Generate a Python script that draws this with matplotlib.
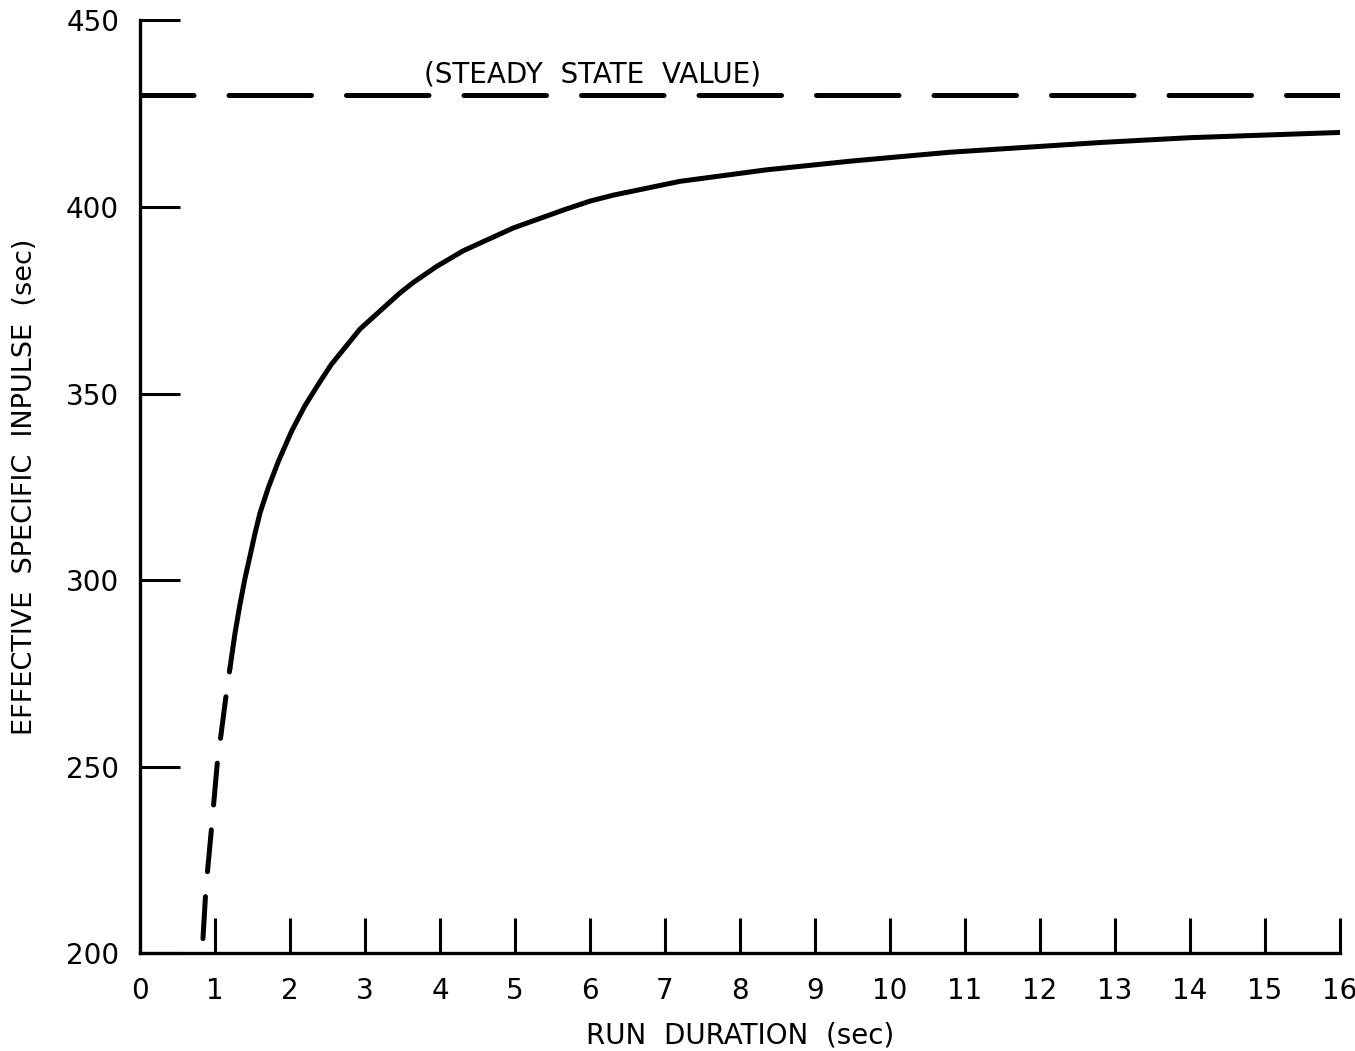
import matplotlib
matplotlib.use('Agg')
from matplotlib import pyplot as plt

# run duration (sec) vs effective specific impulse (sec)
# short-run portion below ~1.2 sec is extrapolated (drawn dashed)
run_time_extrap = [0.84, 0.88, 0.95, 1.03, 1.16, 1.20]
isp_extrap = [204.0, 217.6, 232.7, 250.8, 271.0, 276.5]

run_time = [1.20, 1.267, 1.333, 1.40, 1.467, 1.533, 1.60, 1.711, 1.844, 2.023,
            2.20, 2.40, 2.55, 2.933, 3.467, 3.644, 3.956, 4.311, 4.977,
            5.644, 6.0, 6.311, 7.2, 8.36, 9.47, 10.13, 10.8, 12.8, 14.0, 16.0]
isp = [276.5, 285.8, 293.5, 300.5, 306.5, 312.5, 318.0, 324.8, 331.8, 340.0,
       346.8, 353.2, 357.8, 367.3, 377.0, 379.8, 384.1, 388.3, 394.4,
       399.2, 401.6, 403.2, 406.9, 410.0, 412.3, 413.5, 414.7, 417.3, 418.6, 420.0]

steady_isp = 430
steady_label = '(STEADY  STATE  VALUE)'

x_ticks = list(range(0, 17))
y_ticks = [200, 250, 300, 350, 400, 450]

plt.rcParams['font.family'] = ['DejaVu Sans']

fig = plt.figure(figsize=(13.55, 10.51), dpi=100)
ax = fig.add_axes([0.1033, 0.0928, 0.8856, 0.8877])

lw = 3.6
ax.plot([0, 16], [steady_isp, steady_isp], color='black', lw=lw,
        linestyle=(5.8, (16.5, 7.0)), dash_capstyle='round')
ax.plot(run_time_extrap, isp_extrap, color='black', lw=lw,
        linestyle=(0, (8.4, 5.0)), dash_capstyle='round')
ax.plot(run_time, isp, color='black', lw=lw, solid_capstyle='round',
        solid_joinstyle='round')

ax.text(6.03, 435.5, steady_label, fontsize=20, ha='center', va='center')

ax.set_xlim(0, 16)
ax.set_ylim(200, 450)
ax.set_xticks(x_ticks)
ax.set_yticks(y_ticks)
ax.tick_params(axis='x', direction='in', length=25, width=2.2, pad=17, labelsize=20)
ax.tick_params(axis='y', direction='in', length=29, width=2.2, pad=15, labelsize=20)

for side in ('top', 'right'):
    ax.spines[side].set_visible(False)
for side in ('left', 'bottom'):
    ax.spines[side].set_linewidth(2.4)

ax.set_xlabel('RUN  DURATION  (sec)', fontsize=20, labelpad=12)
ax.set_ylabel('EFFECTIVE  SPECIFIC  INPULSE  (sec)', fontsize=19.5, labelpad=20)

fig.savefig('out.png', dpi=100)
